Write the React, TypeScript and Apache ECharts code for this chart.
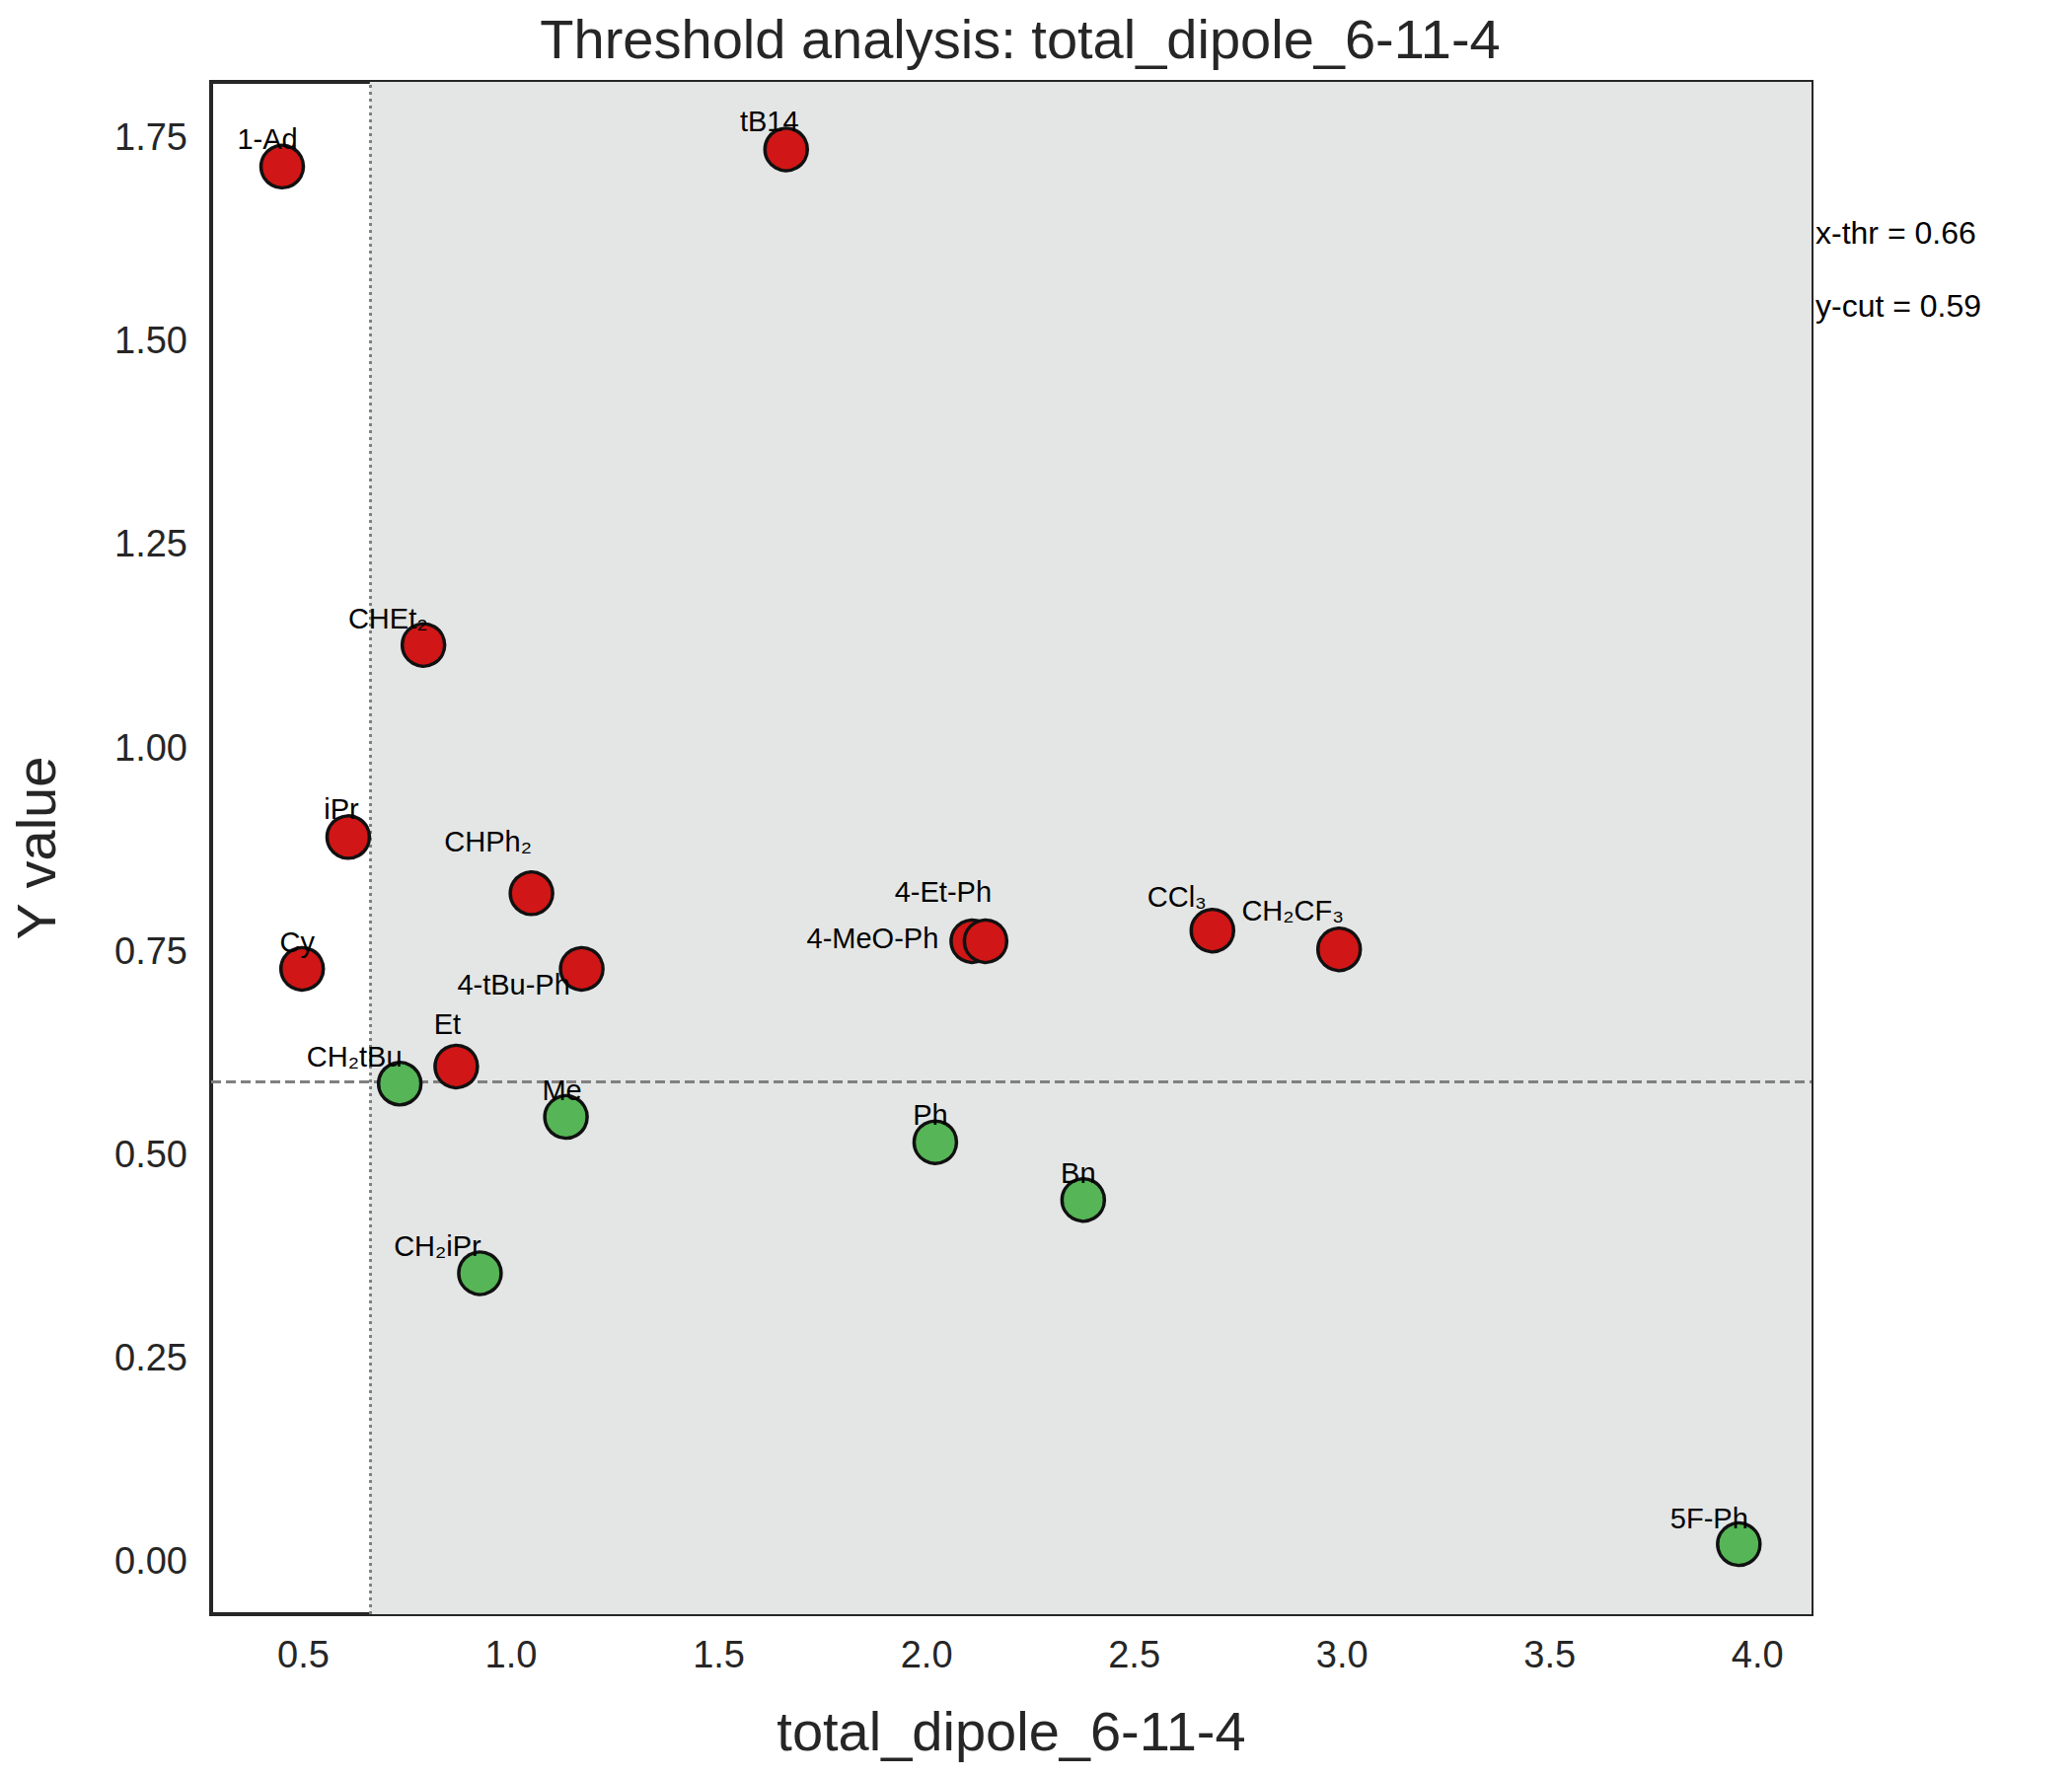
import React, { useEffect, useRef } from "react";
import * as echarts from "echarts";

const names = ["1-Ad","tB14","CHEt₂","iPr","CHPh₂","Cy","4-tBu-Ph","Et","CH₂tBu","Me","4-MeO-Ph","4-Et-Ph","CCl₃","CH₂CF₃","Ph","Bn","CH₂iPr","5F-Ph"];
const xVals = [0.449,1.662,0.789,0.608,1.049,0.497,1.170,0.868,0.732,1.132,2.110,2.142,2.688,2.993,2.021,2.377,0.925,3.955];
const yVals = [1.714,1.735,1.126,0.890,0.821,0.728,0.728,0.608,0.587,0.546,0.762,0.762,0.775,0.752,0.515,0.444,0.354,0.021];
const labelOffsets = [[-15,-28],[-17,-28],[-36,-27],[-7,-28],[-44,-52],[-5,-27],[-69,16],[-9,-43],[-46,-27],[-4,-27],[-101,-3],[-43,-50],[-36,-34],[-47,-39],[-5,-28],[-5,-27],[-43,-27],[-30,-26]];
const xThr = 0.66;
const yCut = 0.59;
const xTicks = [0.5,1.0,1.5,2.0,2.5,3.0,3.5,4.0];
const yTicks = [0,0.25,0.5,0.75,1.0,1.25,1.5,1.75];

export default function App() {
  const ref = useRef<HTMLDivElement>(null);
  useEffect(() => {
    document.body.style.margin = "0";
    const chart = echarts.init(ref.current!, null, { renderer: "svg" });
    const font = "Liberation Sans, Arial, sans-serif";
    const data = names.map((n, i) => ({
      value: [xVals[i], yVals[i]],
      name: n,
      itemStyle: { color: yVals[i] > yCut ? "#d01616" : "#56b556" },
      label: { offset: labelOffsets[i] },
    }));
    chart.setOption({
      animation: false,
      backgroundColor: "#fff",
      title: { text: "Threshold analysis: total_dipole_6-11-4", left: 1029, top: 6, textAlign: "center",
        textStyle: { fontSize: 56, fontWeight: "normal", color: "#262626", fontFamily: font } },
      grid: { left: 213, right: 264, top: 83, bottom: 164, show: true, borderColor: "#262626", borderWidth: 4, backgroundColor: "#fff" },
      xAxis: { type: "value", min: 0.278, max: 4.13, name: "total_dipole_6-11-4", nameLocation: "middle", nameGap: 90,
        nameTextStyle: { fontSize: 56, color: "#262626", fontFamily: font },
        axisLine: { show: true, onZero: false, lineStyle: { color: "#262626", width: 4 } }, axisTick: { show: false }, splitLine: { show: false },
        axisLabel: { customValues: xTicks, formatter: (v: number) => v.toFixed(1), fontSize: 38, color: "#262626", fontFamily: font, margin: 22 } },
      yAxis: { type: "value", min: -0.065, max: 1.818, name: "Y value", nameLocation: "middle", nameGap: 150,
        nameTextStyle: { fontSize: 56, color: "#262626", fontFamily: font },
        axisLine: { show: true, onZero: false, lineStyle: { color: "#262626", width: 4 } }, axisTick: { show: false }, splitLine: { show: false },
        axisLabel: { customValues: yTicks, formatter: (v: number) => v.toFixed(2), fontSize: 38, color: "#262626", fontFamily: font, margin: 24 } },
      graphic: [
        { type: "text", left: 1840, top: 220, z: 100, style: { text: "x-thr = 0.66", fontSize: 32, fill: "#000", fontFamily: font } },
        { type: "text", left: 1840, top: 294, z: 100, style: { text: "y-cut = 0.59", fontSize: 32, fill: "#000", fontFamily: font } },
      ],
      series: [{
        type: "scatter",
        symbolSize: 43,
        data,
        itemStyle: { borderColor: "#111", borderWidth: 3.5, opacity: 1 },
        label: { show: true, position: "inside", formatter: "{b}", fontSize: 29, color: "#000", fontFamily: font },
        z: 5,
        markArea: { silent: true, itemStyle: { color: "#e4e6e5" }, data: [[{ xAxis: xThr, yAxis: -0.065 }, { xAxis: 4.13, yAxis: 1.818 }]] },
        markLine: { silent: true, symbol: "none", label: { show: false },
          data: [
            { xAxis: xThr, lineStyle: { type: [3, 4], color: "#808080", width: 3 } },
            { yAxis: yCut, lineStyle: { type: [10, 5], color: "#808080", width: 3 } },
          ] },
      }],
    });
    return () => chart.dispose();
  }, []);
  return <div ref={ref} style={{ width: 2100, height: 1800 }} />;
}
